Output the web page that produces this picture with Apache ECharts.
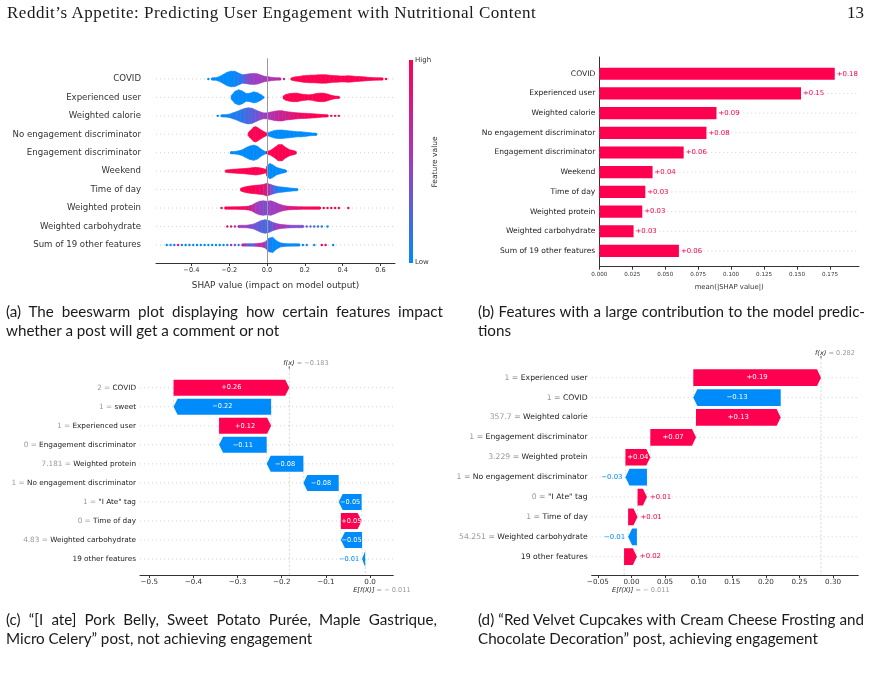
<!DOCTYPE html>
<html>
<head>
<meta charset="utf-8">
<title>SHAP figures</title>
<script src="https://cdn.jsdelivr.net/npm/echarts@6.0.0/dist/echarts.min.js"></script>
<style>
  html, body { margin: 0; padding: 0; background: #fff; }
  #page { position: relative; width: 872px; height: 677px; overflow: hidden; }
  #chart { position: absolute; left: 0; top: 0; width: 872px; height: 677px; }
  .head { position: absolute; top: 2px; line-height: 22px; font-family: 'Liberation Serif', serif; font-size: 17px; color: #1a1a1a; }
  .cap { position: absolute; font-family: Lato, sans-serif; font-size: 15.2px; line-height: 19px; color: #1a1a1a; }
  .cap .j { text-align: justify; text-align-last: justify; }
</style>
</head>
<body>
<div id="page">
  <div id="chart"></div>
  <div class="head" style="left:7px; letter-spacing:0.5px">Reddit’s Appetite: Predicting User Engagement with Nutritional Content</div>
  <div class="head" style="right:8px">13</div>
  <div class="cap" style="left:6px; top:302px; width:437px">
    <div class="j">(a) The beeswarm plot displaying how certain features impact</div>
    <div>whether a post will get a comment or not</div>
  </div>
  <div class="cap" style="left:478px; top:302px; width:387px">
    <div class="j">(b) Features with a large contribution to the model predic-</div>
    <div>tions</div>
  </div>
  <div class="cap" style="left:6px; top:610px; width:431px">
    <div class="j">(c) “[I ate] Pork Belly, Sweet Potato Purée, Maple Gastrique,</div>
    <div>Micro Celery” post, not achieving engagement</div>
  </div>
  <div class="cap" style="left:478px; top:610px; width:386px">
    <div class="j">(d) “Red Velvet Cupcakes with Cream Cheese Frosting and</div>
    <div>Chocolate Decoration” post, achieving engagement</div>
  </div>
</div>
<script>
// ---- (a) beeswarm: [shap value, density, feature value]
var swarmFeatures = ['COVID', 'Experienced user', 'Weighted calorie', 'No engagement discriminator',
  'Engagement discriminator', 'Weekend', 'Time of day', 'Weighted protein', 'Weighted carbohydrate',
  'Sum of 19 other features'];
var swarmCovid = [[-0.31, 0.08, 0], [-0.29, 0.1, 0], [-0.27, 0.15, 0], [-0.25, 0.3, 0], [-0.23, 0.55, 0],
  [-0.21, 0.8, 0], [-0.19, 0.92, 0.02], [-0.17, 0.9, 0.05], [-0.15, 0.7, 0.1], [-0.13, 0.5, 0.25],
  [-0.11, 0.55, 0.4], [-0.09, 0.62, 0.45], [-0.07, 0.65, 0.5], [-0.05, 0.6, 0.5], [-0.03, 0.45, 0.5],
  [-0.01, 0.3, 0.55], [0.01, 0.25, 0.55], [0.03, 0.18, 0.6], [0.05, 0.12, 0.6], [0.07, 0.08, 0.65],
  [0.09, 0.06, 0.7], [0.13, 0.1, 1], [0.15, 0.25, 1], [0.17, 0.3, 1], [0.19, 0.38, 1], [0.21, 0.42, 1],
  [0.23, 0.45, 1], [0.25, 0.45, 1], [0.27, 0.48, 1], [0.29, 0.5, 1], [0.31, 0.5, 1], [0.33, 0.45, 1],
  [0.35, 0.4, 1], [0.37, 0.38, 1], [0.39, 0.35, 1], [0.41, 0.35, 1], [0.43, 0.38, 1], [0.45, 0.35, 1],
  [0.47, 0.3, 1], [0.49, 0.28, 1], [0.51, 0.25, 1], [0.53, 0.2, 1], [0.55, 0.17, 1], [0.57, 0.15, 1],
  [0.59, 0.12, 1], [0.61, 0.1, 1], [0.63, 0.08, 1]];
var swarmExperienced = [[-0.19, 0.2, 0], [-0.17, 0.7, 0], [-0.15, 0.9, 0], [-0.13, 0.75, 0], [-0.11, 0.45, 0],
  [-0.09, 0.5, 0], [-0.07, 0.65, 0], [-0.05, 0.55, 0], [-0.03, 0.3, 0], [-0.02, 0.1, 0],
  [0.085, 0.15, 1], [0.1, 0.35, 1], [0.12, 0.45, 1], [0.14, 0.5, 1], [0.16, 0.5, 1], [0.18, 0.4, 1],
  [0.2, 0.35, 1], [0.22, 0.3, 1], [0.24, 0.35, 1], [0.26, 0.45, 1], [0.28, 0.5, 1], [0.3, 0.5, 1],
  [0.32, 0.4, 1], [0.34, 0.25, 1], [0.36, 0.15, 1], [0.38, 0.08, 1]];
var swarmCalorie = [[-0.26, 0.06, 0], [-0.24, 0.08, 0], [-0.22, 0.12, 0.05], [-0.2, 0.2, 0.05], [-0.18, 0.35, 0.1],
  [-0.16, 0.5, 0.1], [-0.14, 0.7, 0.15], [-0.12, 0.85, 0.2], [-0.1, 0.95, 0.25], [-0.08, 0.9, 0.3],
  [-0.06, 0.7, 0.35], [-0.04, 0.5, 0.45], [-0.02, 0.35, 0.5], [0.0, 0.35, 0.55], [0.02, 0.45, 0.6],
  [0.04, 0.55, 0.65], [0.06, 0.6, 0.7], [0.08, 0.6, 0.72], [0.1, 0.5, 0.75], [0.12, 0.45, 0.8],
  [0.14, 0.4, 0.85], [0.16, 0.35, 0.9], [0.18, 0.32, 0.92], [0.2, 0.3, 0.95], [0.22, 0.28, 0.95],
  [0.24, 0.25, 1], [0.26, 0.22, 1], [0.28, 0.18, 1], [0.3, 0.15, 1], [0.32, 0.1, 1], [0.34, 0.06, 1],
  [0.36, 0.05, 1], [0.38, 0.05, 1]];
var swarmNoEngagement = [[-0.1, 0.15, 1], [-0.09, 0.4, 1], [-0.07, 0.85, 1], [-0.06, 0.9, 1], [-0.05, 0.8, 1],
  [-0.03, 0.5, 1], [-0.015, 0.3, 1], [0.0, 0.15, 0], [0.02, 0.3, 0], [0.04, 0.45, 0], [0.06, 0.5, 0],
  [0.08, 0.5, 0], [0.1, 0.45, 0], [0.12, 0.4, 0], [0.14, 0.35, 0], [0.16, 0.3, 0], [0.18, 0.3, 0],
  [0.2, 0.25, 0], [0.22, 0.2, 0], [0.24, 0.15, 0], [0.26, 0.08, 0]];
var swarmEngagement = [[-0.19, 0.1, 0], [-0.17, 0.15, 0], [-0.15, 0.22, 0], [-0.13, 0.35, 0], [-0.11, 0.6, 0],
  [-0.09, 0.8, 0], [-0.07, 0.9, 0], [-0.05, 0.75, 0], [-0.03, 0.4, 0], [-0.01, 0.15, 0],
  [0.0, 0.1, 1], [0.02, 0.3, 1], [0.04, 0.6, 1], [0.06, 0.95, 1], [0.08, 0.95, 1], [0.1, 0.6, 1],
  [0.12, 0.35, 1], [0.14, 0.25, 1], [0.155, 0.12, 1]];
var swarmWeekend = [[-0.22, 0.12, 1], [-0.2, 0.18, 1], [-0.18, 0.22, 1], [-0.16, 0.25, 1], [-0.14, 0.28, 1],
  [-0.12, 0.3, 1], [-0.1, 0.35, 1], [-0.08, 0.4, 1], [-0.06, 0.45, 1], [-0.04, 0.4, 1], [-0.02, 0.3, 1],
  [-0.005, 0.2, 1], [0.0, 0.6, 0], [0.015, 0.9, 0], [0.03, 0.75, 0], [0.05, 0.45, 0], [0.07, 0.3, 0],
  [0.09, 0.2, 0], [0.1, 0.1, 0]];
var swarmTimeOfDay = [[-0.14, 0.15, 1], [-0.12, 0.3, 1], [-0.1, 0.4, 1], [-0.08, 0.45, 1], [-0.06, 0.5, 0.95],
  [-0.04, 0.55, 0.9], [-0.02, 0.6, 0.8], [0.0, 0.75, 0.6], [0.02, 0.6, 0.3], [0.04, 0.45, 0.15],
  [0.06, 0.35, 0.05], [0.08, 0.3, 0], [0.1, 0.25, 0], [0.12, 0.2, 0], [0.14, 0.15, 0], [0.16, 0.08, 0]];
var swarmProtein = [[-0.24, 0.06, 1], [-0.22, 0.1, 1], [-0.2, 0.12, 1], [-0.18, 0.14, 1], [-0.16, 0.15, 1],
  [-0.14, 0.16, 0.95], [-0.12, 0.18, 0.9], [-0.1, 0.22, 0.8], [-0.08, 0.35, 0.6], [-0.06, 0.6, 0.5],
  [-0.04, 0.8, 0.45], [-0.02, 0.85, 0.4], [0.0, 0.8, 0.45], [0.02, 0.85, 0.5], [0.04, 0.7, 0.5],
  [0.06, 0.5, 0.55], [0.08, 0.35, 0.6], [0.1, 0.25, 0.7], [0.12, 0.2, 0.8], [0.14, 0.18, 0.85],
  [0.16, 0.16, 0.9], [0.18, 0.15, 0.9], [0.2, 0.14, 0.95], [0.22, 0.13, 0.95], [0.24, 0.12, 1],
  [0.26, 0.12, 1], [0.28, 0.1, 1], [0.3, 0.1, 1], [0.32, 0.08, 1], [0.34, 0.07, 1], [0.36, 0.06, 1],
  [0.38, 0.05, 1], [0.43, 0.05, 1]];
var swarmCarbohydrate = [[-0.21, 0.06, 0.9], [-0.19, 0.08, 0.8], [-0.17, 0.08, 0.6], [-0.15, 0.1, 0.5],
  [-0.13, 0.12, 0.5], [-0.11, 0.15, 0.45], [-0.09, 0.2, 0.4], [-0.07, 0.3, 0.35], [-0.05, 0.5, 0.3],
  [-0.03, 0.7, 0.25], [-0.01, 0.8, 0.2], [0.01, 0.7, 0.3], [0.03, 0.5, 0.4], [0.05, 0.35, 0.5],
  [0.07, 0.25, 0.55], [0.09, 0.2, 0.5], [0.11, 0.17, 0.45], [0.13, 0.15, 0.4], [0.15, 0.13, 0.4],
  [0.17, 0.12, 0.35], [0.19, 0.1, 0.4], [0.21, 0.1, 0.3], [0.23, 0.08, 0.3], [0.25, 0.07, 0.2],
  [0.27, 0.06, 0.1], [0.29, 0.05, 0.1], [0.32, 0.05, 0]];
var swarmOther = [[-0.53, 0.05, 0], [-0.51, 0.05, 0], [-0.49, 0.05, 0.2], [-0.47, 0.05, 0.8], [-0.45, 0.05, 0],
  [-0.43, 0.05, 0], [-0.41, 0.05, 0], [-0.39, 0.05, 0], [-0.37, 0.05, 0], [-0.35, 0.05, 0], [-0.33, 0.05, 0],
  [-0.31, 0.05, 0], [-0.29, 0.05, 0], [-0.27, 0.05, 0], [-0.25, 0.06, 0], [-0.23, 0.06, 0], [-0.21, 0.07, 0],
  [-0.19, 0.08, 0.6], [-0.17, 0.08, 0.3], [-0.15, 0.1, 0.2], [-0.13, 0.1, 0.6], [-0.11, 0.12, 0.3],
  [-0.09, 0.13, 0.2], [-0.07, 0.15, 0.5], [-0.05, 0.18, 0.7], [-0.03, 0.22, 0.6], [-0.01, 0.35, 0.3],
  [0.01, 0.8, 0.05], [0.03, 0.9, 0], [0.05, 0.5, 0], [0.07, 0.25, 0.1], [0.09, 0.18, 0], [0.11, 0.15, 0],
  [0.13, 0.13, 0], [0.15, 0.12, 0], [0.17, 0.1, 0], [0.19, 0.08, 0], [0.21, 0.06, 0], [0.25, 0.05, 0],
  [0.29, 0.05, 1], [0.31, 0.05, 1], [0.35, 0.05, 0]];
var swarmTicks = [-0.4, -0.2, 0, 0.2, 0.4, 0.6];

// ---- (b) mean |SHAP|
var barFeatures = ['COVID', 'Experienced user', 'Weighted calorie', 'No engagement discriminator',
  'Engagement discriminator', 'Weekend', 'Time of day', 'Weighted protein', 'Weighted carbohydrate',
  'Sum of 19 other features'];
var barValues = [0.1786, 0.153, 0.0889, 0.0813, 0.064, 0.0404, 0.0349, 0.0326, 0.026, 0.0604];
var barTicks = [0, 0.025, 0.05, 0.075, 0.1, 0.125, 0.15, 0.175];

// ---- (c) waterfall, pork belly post
var porkFeatures = ['COVID', 'sweet', 'Experienced user', 'Engagement discriminator', 'Weighted protein',
  'No engagement discriminator', '"I Ate" tag', 'Time of day', 'Weighted carbohydrate', '19 other features'];
var porkInputs = ['2', '1', '1', '0', '7.181', '1', '1', '0', '4.83', ''];
var porkShap = [0.262, -0.221, 0.118, -0.108, -0.083, -0.080, -0.052, 0.047, -0.048, -0.007];
var porkBase = -0.011;
var porkTicks = [-0.5, -0.4, -0.3, -0.2, -0.1, 0];

// ---- (d) waterfall, red velvet post
var cakeFeatures = ['Experienced user', 'COVID', 'Weighted calorie', 'Engagement discriminator',
  'Weighted protein', 'No engagement discriminator', '"I Ate" tag', 'Time of day', 'Weighted carbohydrate',
  '19 other features'];
var cakeInputs = ['1', '1', '357.7', '1', '3.229', '1', '0', '1', '54.251', ''];
var cakeShap = [0.190, -0.130, 0.126, 0.068, 0.037, -0.032, 0.014, 0.014, -0.013, 0.019];
var cakeBase = -0.011;
var cakeTicks = [-0.05, 0, 0.05, 0.1, 0.15, 0.2, 0.25, 0.3];

var RED = '#ff0051', BLUE = '#008bfb', MID = '#a03cc0';
var FONT = 'DejaVu Sans';
var SWARM_HALF = 8.5;

var swarmRows = [swarmCovid, swarmExperienced, swarmCalorie, swarmNoEngagement, swarmEngagement,
  swarmWeekend, swarmTimeOfDay, swarmProtein, swarmCarbohydrate, swarmOther];
var swarmData = [];
swarmRows.forEach(function (row, r) {
  row.forEach(function (p, k) { swarmData.push([p[0], r, p[2], p[1], k]); });
});
var rowIdx = [0, 1, 2, 3, 4, 5, 6, 7, 8, 9];

function fmt(v, d) {
  return (v < -1e-9 ? '\u2212' : '') + Math.abs(v).toFixed(d);
}

function renderGuide(params, api) {
  var y = api.coord([0, api.value(0)])[1];
  var cs = params.coordSys;
  return {
    type: 'line', shape: { x1: cs.x, y1: y, x2: cs.x + cs.width, y2: y },
    style: { stroke: '#c8c8c8', lineWidth: 0.8, lineDash: [1, 3] }
  };
}

function renderSwarm(params, api) {
  var item = swarmData[params.dataIndex];
  var row = swarmRows[item[1]], k = item[4];
  var p = api.coord([item[0], item[1]]);
  var color = api.visual('color');
  var children = [];
  var next = row[k + 1];
  if (next && next[0] - item[0] <= 0.0251 && (item[3] >= 0.12 || next[1] >= 0.12)) {
    var q = api.coord([next[0], item[1]]);
    var h0 = Math.max(item[3] * SWARM_HALF, 1.2), h1 = Math.max(next[1] * SWARM_HALF, 1.2);
    children.push({
      type: 'polygon',
      shape: { points: [[p[0], p[1] - h0], [q[0], q[1] - h1], [q[0], q[1] + h1], [p[0], p[1] + h0]] },
      style: { fill: color, stroke: color, lineWidth: 0.6 }
    });
  }
  if (item[3] < 0.12) {
    children.push({ type: 'circle', shape: { cx: p[0], cy: p[1], r: 1.2 }, style: { fill: color } });
  }
  return { type: 'group', children: children };
}

function renderBar(params, api) {
  var v = api.value(0), row = api.value(1);
  var a = api.coord([0, row]), b = api.coord([v, row]);
  var half = api.size([0, 1])[1] * 0.31;
  var cs = params.coordSys;
  return {
    type: 'group', children: [
      { type: 'line', shape: { x1: cs.x, y1: a[1], x2: cs.x + cs.width, y2: a[1] },
        style: { stroke: '#c8c8c8', lineWidth: 0.8, lineDash: [1, 3] } },
      { type: 'rect', shape: { x: a[0], y: a[1] - half, width: b[0] - a[0], height: 2 * half },
        style: { fill: RED } },
      { type: 'text', x: b[0] + 2, y: a[1],
        style: { text: '+' + v.toFixed(2), fill: RED, fontSize: 6.9, fontFamily: FONT,
          align: 'left', verticalAlign: 'middle' } }
    ]
  };
}

function waterfallData(shap, base) {
  var out = [], cur = base;
  for (var i = shap.length - 1; i >= 0; i--) {
    out[i] = [cur, cur + shap[i], i, shap[i]];
    cur += shap[i];
  }
  return out;
}

function waterfallRenderer(rows, minInside, fontSize) {
  return function (params, api) {
    var s = api.value(0), e = api.value(1), row = api.value(2), v = api.value(3);
    var a = api.coord([s, row]), b = api.coord([e, row]);
    var half = api.size([0, 1])[1] * 0.42;
    var y = a[1];
    var dir = b[0] >= a[0] ? 1 : -1;
    var len = Math.abs(b[0] - a[0]);
    var head = Math.min(4, len);
    var color = v >= 0 ? RED : BLUE;
    var cs = params.coordSys;
    var children = [
      { type: 'line', shape: { x1: cs.x, y1: y, x2: cs.x + cs.width, y2: y },
        style: { stroke: '#c8c8c8', lineWidth: 0.8, lineDash: [1, 3] } }
    ];
    if (row < rows.length - 1) {
      var below = api.coord([s, row + 1]);
      children.push({ type: 'line', shape: { x1: a[0], y1: y, x2: a[0], y2: below[1] },
        style: { stroke: '#cccccc', lineWidth: 0.6, lineDash: [2, 2] } });
    }
    children.push({
      type: 'polygon',
      shape: { points: [[a[0], y - half], [b[0] - dir * head, y - half], [b[0], y],
        [b[0] - dir * head, y + half], [a[0], y + half]] },
      style: { fill: color }
    });
    var txt = (v >= 0 ? '+' : '\u2212') + Math.abs(v).toFixed(2);
    if (len >= minInside) {
      children.push({ type: 'text', x: (a[0] + b[0]) / 2, y: y,
        style: { text: txt, fill: '#fff', fontSize: fontSize, fontFamily: FONT,
          align: 'center', verticalAlign: 'middle' } });
    } else {
      children.push({ type: 'text', x: b[0] + dir * 3, y: y,
        style: { text: txt, fill: color, fontSize: fontSize, fontFamily: FONT,
          align: dir > 0 ? 'left' : 'right', verticalAlign: 'middle' } });
    }
    return { type: 'group', children: children };
  };
}

function markerRenderer(fontSize) {
  return function (params, api) {
    var fx = api.value(0), base = api.value(1), last = api.value(2);
    var cs = params.coordSys;
    var top = cs.y, bottom = cs.y + cs.height;
    var fxp = api.coord([fx, 0])[0];
    var bp = api.coord([base, last]);
    var rich = {
      f: { fill: '#222', fontSize: fontSize, fontFamily: FONT, fontStyle: 'italic' },
      g: { fill: '#999', fontSize: fontSize, fontFamily: FONT }
    };
    return {
      type: 'group', children: [
        { type: 'line', shape: { x1: fxp, y1: top, x2: fxp, y2: bottom },
          style: { stroke: '#bbbbbb', lineWidth: 0.6, lineDash: [2, 2] } },
        { type: 'line', shape: { x1: bp[0], y1: bp[1], x2: bp[0], y2: bottom },
          style: { stroke: '#bbbbbb', lineWidth: 0.6, lineDash: [2, 2] } },
        { type: 'line', shape: { x1: fxp, y1: top - 2.5, x2: fxp, y2: top },
          style: { stroke: '#333', lineWidth: 0.8 } },
        { type: 'text', x: fxp - 6, y: top - 5.5,
          style: { text: '{f|f(x)}{g| = ' + fmt(fx, 3) + '}', rich: rich, align: 'left', verticalAlign: 'middle' } },
        { type: 'text', x: bp[0] - 12, y: bottom + 15,
          style: { text: '{f|E[f(X)]}{g| = \u2212 ' + Math.abs(base).toFixed(3) + '}', rich: rich,
            align: 'left', verticalAlign: 'middle' } }
      ]
    };
  };
}

function sum(arr) { return arr.reduce(function (t, v) { return t + v; }, 0); }

function waterfallLabel(features, inputs, size) {
  return {
    customValues: rowIdx, margin: 4,
    formatter: function (v) {
      var i = Math.round(v);
      return inputs[i] ? '{g|' + inputs[i] + ' = }{n|' + features[i] + '}' : '{n|' + features[i] + '}';
    },
    rich: {
      g: { color: '#999', fontSize: size, fontFamily: FONT },
      n: { color: '#222', fontSize: size, fontFamily: FONT }
    }
  };
}

function xAxisBase(gridIndex, min, max, ticks, digits, fontSize, margin) {
  return {
    type: 'value', gridIndex: gridIndex, min: min, max: max,
    axisLine: { show: true, onZero: false, lineStyle: { color: '#333', width: 1 } },
    axisTick: { show: true, length: 3, customValues: ticks, lineStyle: { color: '#333' } },
    axisLabel: { customValues: ticks, fontSize: fontSize, fontFamily: FONT, color: '#333', margin: margin,
      formatter: function (v) { return fmt(v, digits); } },
    splitLine: { show: false }
  };
}

function yAxisBase(gridIndex, min, max) {
  return {
    type: 'value', gridIndex: gridIndex, min: min, max: max, inverse: true,
    axisLine: { show: false, onZero: false },
    axisTick: { show: false },
    splitLine: { show: false }
  };
}

var xa = xAxisBase(0, -0.587, 0.677, swarmTicks, 1, 6.6, 4);
xa.name = 'SHAP value (impact on model output)';
xa.nameLocation = 'middle';
xa.nameGap = 18;
xa.nameTextStyle = { fontSize: 8.9, fontFamily: FONT, color: '#333' };

var xb = xAxisBase(1, 0, 0.197, barTicks, 3, 5.6, 5);
xb.name = 'mean(|SHAP value|)';
xb.nameLocation = 'middle';
xb.nameGap = 17;
xb.nameTextStyle = { fontSize: 6.9, fontFamily: FONT, color: '#333' };

var xc = xAxisBase(2, -0.521, 0.0527, porkTicks, 1, 7.2, 4);
var xd = xAxisBase(3, -0.0592, 0.3375, cakeTicks, 2, 7.2, 4);

var ya = yAxisBase(0, -1.12, 9.98);
ya.axisLabel = { customValues: rowIdx, margin: 15, fontSize: 8.6, fontFamily: FONT, color: '#333',
  formatter: function (v) { return swarmFeatures[Math.round(v)]; } };

var yb = yAxisBase(1, -0.85, 9.8);
yb.axisLine = { show: true, onZero: false, lineStyle: { color: '#333', width: 1 } };
yb.axisLabel = { customValues: rowIdx, margin: 4, fontSize: 7.6, fontFamily: FONT, color: '#222',
  formatter: function (v) { return barFeatures[Math.round(v)]; } };

var yc = yAxisBase(2, -1, 9.84);
yc.axisLabel = waterfallLabel(porkFeatures, porkInputs, 7.3);

var yd = yAxisBase(3, -0.975, 9.92);
yd.axisLabel = waterfallLabel(cakeFeatures, cakeInputs, 7.7);

var chart = echarts.init(document.getElementById('chart'));

var option = {
  animation: false,
  textStyle: { fontFamily: FONT },
  grid: [
    { left: 156, top: 58.3, width: 239, height: 204.7, containLabel: false, outerBoundsMode: 'none' },
    { left: 599.3, top: 57, width: 259.7, height: 209.7, containLabel: false, outerBoundsMode: 'none' },
    { left: 140, top: 368.7, width: 253.3, height: 206.3, containLabel: false, outerBoundsMode: 'none' },
    { left: 591.7, top: 358.3, width: 266.6, height: 216.7, containLabel: false, outerBoundsMode: 'none' }
  ],
  xAxis: [xa, xb, xc, xd],
  yAxis: [ya, yb, yc, yd],
  visualMap: [{
    show: false, type: 'continuous', seriesIndex: 1, dimension: 2, min: 0, max: 1,
    inRange: { color: [BLUE, MID, RED] }
  }],
  graphic: [
    { type: 'rect', left: 409, top: 60, shape: { width: 4, height: 203 },
      style: { fill: new echarts.graphic.LinearGradient(0, 0, 0, 1, [
        { offset: 0, color: RED }, { offset: 0.5, color: MID }, { offset: 1, color: BLUE }]) } },
    { type: 'text', left: 415, top: 57, style: { text: 'High', fontSize: 7, fontFamily: FONT, fill: '#333' } },
    { type: 'text', left: 415, top: 259, style: { text: 'Low', fontSize: 7, fontFamily: FONT, fill: '#333' } },
    { type: 'text', x: 435, y: 162, rotation: Math.PI / 2,
      style: { text: 'Feature value', fontSize: 7.5, fontFamily: FONT, fill: '#333', align: 'center', verticalAlign: 'middle' } }
  ],
  series: [
    { type: 'custom', xAxisIndex: 0, yAxisIndex: 0, data: rowIdx.map(function (r) { return [r]; }),
      encode: { y: 0 }, renderItem: renderGuide, silent: true, z: 1 },
    { type: 'custom', xAxisIndex: 0, yAxisIndex: 0, data: swarmData, encode: { x: 0, y: 1 },
      renderItem: renderSwarm, clip: false, silent: true, z: 3,
      markLine: { silent: true, symbol: 'none', label: { show: false },
        lineStyle: { color: '#999', width: 1, type: 'solid' }, data: [{ xAxis: 0 }] } },
    { type: 'custom', xAxisIndex: 1, yAxisIndex: 1,
      data: barValues.map(function (v, i) { return [v, i]; }), encode: { x: 0, y: 1 },
      renderItem: renderBar, clip: false, silent: true },
    { type: 'custom', xAxisIndex: 2, yAxisIndex: 2, data: waterfallData(porkShap, porkBase),
      encode: { x: [0, 1], y: 2 }, renderItem: waterfallRenderer(porkShap, 19, 6.6), clip: false, silent: true, z: 3 },
    { type: 'custom', xAxisIndex: 2, yAxisIndex: 2, data: [[porkBase + sum(porkShap), porkBase, porkShap.length - 1]],
      encode: { x: [0, 1], y: 2 }, renderItem: markerRenderer(6.6), clip: false, silent: true, z: 2 },
    { type: 'custom', xAxisIndex: 3, yAxisIndex: 3, data: waterfallData(cakeShap, cakeBase),
      encode: { x: [0, 1], y: 2 }, renderItem: waterfallRenderer(cakeShap, 23, 6.9), clip: false, silent: true, z: 3 },
    { type: 'custom', xAxisIndex: 3, yAxisIndex: 3, data: [[cakeBase + sum(cakeShap), cakeBase, cakeShap.length - 1]],
      encode: { x: [0, 1], y: 2 }, renderItem: markerRenderer(6.6), clip: false, silent: true, z: 2 }
  ]
};

chart.setOption(option);
</script>
</body>
</html>
